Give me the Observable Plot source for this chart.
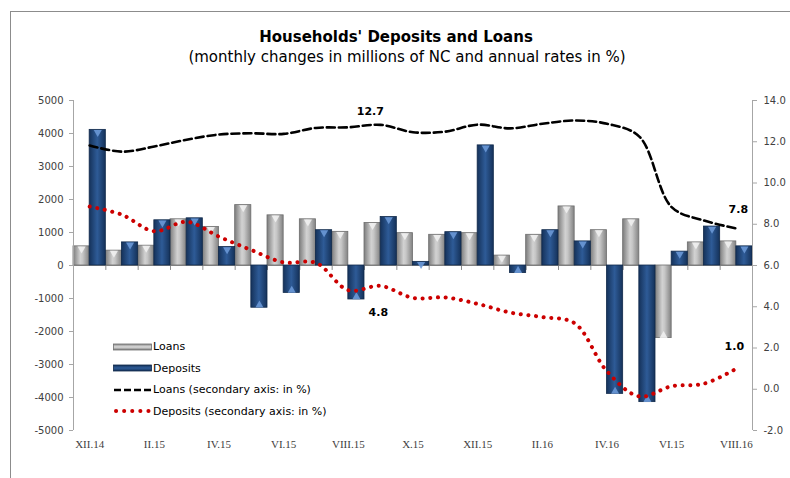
<!DOCTYPE html>
<html>
<head>
<meta charset="utf-8">
<script src="https://cdn.jsdelivr.net/npm/d3@7"></script>
<script src="https://cdn.jsdelivr.net/npm/@observablehq/plot@0.6"></script>
<style>
  html, body { margin: 0; padding: 0; background: #fff; }
  #wrap { position: relative; width: 790px; height: 478px; overflow: hidden; font-family: "DejaVu Sans", sans-serif; }
  #wrap > svg { position: absolute; left: 0; top: 0; }
  .frameTop { position: absolute; left: 10px; top: 11px; width: 790px; height: 0; border-top: 1.5px solid #8c8c8c; }
  .frameLeft { position: absolute; left: 10px; top: 11px; width: 0; height: 480px; border-left: 1.5px solid #8c8c8c; }
  .title { position: absolute; top: 28px; left: 196px; width: 400px; text-align: center; font-weight: bold; font-size: 15px; color: #000; }
  .subtitle { position: absolute; top: 48px; left: 157px; width: 500px; text-align: center; font-size: 15px; color: #000; }
  .legend { position: absolute; left: 113px; top: 336px; font-size: 11px; color: #000; }
  .legend .row { height: 21.5px; display: flex; align-items: center; }
  .legend .sw { width: 39px; height: 20px; margin-right: 1px; display: block; }
</style>
</head>
<body>
<div id="wrap">
  <div class="frameTop"></div>
  <div class="frameLeft"></div>
</div>
<script>
// ---- data ----
const months = ["XII.14","I.15","II.15","III.15","IV.15","V.15","VI.15","VII.15","VIII.15","IX.15","X.15",
                "XI.15","XII.15","I.16","II.16","III.16","IV.16","V.16","VI.16","VII.16","VIII.16"];
const tickLabels = ["XII.14","II.15","IV.15","VI.15","VIII.15","X.15","XII.15","II.16","IV.16","VI.15","VIII.16"];
const loans    = [580, 450, 600, 1400, 1170, 1830, 1520, 1400, 1020, 1290, 980, 930, 980, 300, 930, 1790, 1070, 1400, -2200, 700, 730];
const deposits = [4110, 700, 1370, 1430, 560, -1280, -830, 1070, -1030, 1470, 110, 1010, 3640, -230, 1070, 730, -3890, -4140, 420, 1180, 580];
const loansRate    = [11.82, 11.52, 11.77, 12.1, 12.35, 12.41, 12.38, 12.67, 12.7, 12.82, 12.46, 12.49, 12.83, 12.65, 12.87, 13.03, 12.87, 12.25, 8.83, 8.18, 7.8];
const depositsRate = [8.86, 8.46, 7.66, 8.12, 7.4, 6.75, 6.15, 6.13, 4.8, 5.01, 4.43, 4.45, 4.14, 3.72, 3.5, 3.2, 0.87, -0.35, 0.15, 0.27, 1.0];
const leftTicks  = [-5000, -4000, -3000, -2000, -1000, 0, 1000, 2000, 3000, 4000, 5000];
const rightTicks = [-2, 0, 2, 4, 6, 8, 10, 12, 14];
const labelPoints = [
  {i: 8,  series: "loans",    dx: 22, dy: -16},
  {i: 8,  series: "deposits", dx: 30, dy: 22},
  {i: 20, series: "loans",    dx: 2,  dy: -19},
  {i: 20, series: "deposits", dx: -2, dy: -22}
];

// secondary axis mapping: -2..14  ->  -5000..5000
const toLeft = v => (v - 6) * 625;
const fromLeft = y => y / 625 + 6;

const rows = months.map((m, i) => ({
  i, month: m, loans: loans[i], deposits: deposits[i],
  loansRate: toLeft(loansRate[i]), depositsRate: toLeft(depositsRate[i])
}));
const tickIdx = tickLabels.map((t, k) => k * 2);
const boundaries = d3.range(months.length - 1).map(i => i + 0.5);
const labels = labelPoints.map(p => {
  const v = p.series === "loans" ? loansRate[p.i] : depositsRate[p.i];
  return {...p, x: p.i, y: toLeft(v), text: v.toFixed(1)};
});
const yMin = leftTicks[0];

const chart = Plot.plot({
  width: 790,
  height: 478,
  marginLeft: 73,
  marginRight: 38,
  marginTop: 100,
  marginBottom: 48,
  style: {fontFamily: "DejaVu Sans, sans-serif", fontSize: "10px", color: "#404040", background: "transparent"},
  x: {domain: [-0.5, months.length - 0.5], axis: null},
  y: {domain: [-5000, 5000], axis: null},
  marks: [
    Plot.ruleY([0], {stroke: "#8c8c8c", strokeWidth: 1}),
    Plot.ruleX(boundaries, {x: d => d, y1: 0, y2: -150, stroke: "#8c8c8c"}),
    Plot.rectY(rows, {x1: d => d.i - 0.5, x2: d => d.i, y1: 0, y2: "loans", fill: "url(#gGray)", stroke: "#6e6e6e", strokeWidth: 0.8}),
    Plot.rectY(rows, {x1: d => d.i, x2: d => d.i + 0.5, y1: 0, y2: "deposits", fill: "url(#gBlue)", stroke: "#10294a", strokeWidth: 0.8}),
    Plot.dot(rows.filter(d => d.loans >= 0), {x: d => d.i - 0.25, y: "loans", symbol: "triangle", r: 3, rotate: 180, dy: 2.5, fill: "#f2f2f2", fillOpacity: 0.85}),
    Plot.dot(rows.filter(d => d.loans < 0), {x: d => d.i - 0.25, y: "loans", symbol: "triangle", r: 3, dy: -2.5, fill: "#f2f2f2", fillOpacity: 0.85}),
    Plot.dot(rows.filter(d => d.deposits >= 0), {x: d => d.i + 0.25, y: "deposits", symbol: "triangle", r: 3, rotate: 180, dy: 2.5, fill: "#6a98d6", fillOpacity: 0.9}),
    Plot.dot(rows.filter(d => d.deposits < 0), {x: d => d.i + 0.25, y: "deposits", symbol: "triangle", r: 3, dy: -2.5, fill: "#6a98d6", fillOpacity: 0.9}),
    Plot.ruleX([-0.5, months.length - 0.5], {stroke: "#a6a6a6"}),
    Plot.axisY({ticks: leftTicks, tickSize: 4, tickPadding: 6, tickFormat: d => String(d), stroke: "#a6a6a6"}),
    Plot.axisY({anchor: "right", ticks: rightTicks.map(toLeft), tickSize: 4, tickPadding: 7, tickFormat: y => fromLeft(y).toFixed(1), stroke: "#a6a6a6"}),
    Plot.text(tickIdx, {x: d => d, y: () => yMin, text: (d, k) => tickLabels[k], dy: 14, fontFamily: "Liberation Serif, serif", fontSize: 11, fill: "#404040"}),
    Plot.line(rows, {x: "i", y: "loansRate", curve: "catmull-rom", stroke: "#000", strokeWidth: 2.6, strokeDasharray: "8,4"}),
    Plot.line(rows, {x: "i", y: "depositsRate", curve: "catmull-rom", stroke: "#cc0000", strokeWidth: 4, strokeDasharray: "0.1,7.6", strokeLinecap: "round"}),
    ...labels.map(l => Plot.text([l], {x: "x", y: "y", text: "text", dx: l.dx, dy: l.dy, fontWeight: "bold", fontSize: 11, fill: "#000"}))
  ]
});

// gradients
const defs = `<defs>
<linearGradient id="gGray" x1="0" x2="1" y1="0" y2="0">
<stop offset="0" stop-color="#7c7c7c"/><stop offset="0.45" stop-color="#d2d2d2"/><stop offset="0.6" stop-color="#c6c6c6"/><stop offset="1" stop-color="#828282"/>
</linearGradient>
<linearGradient id="gBlue" x1="0" x2="1" y1="0" y2="0">
<stop offset="0" stop-color="#15325a"/><stop offset="0.5" stop-color="#2e5b97"/><stop offset="1" stop-color="#15325a"/>
</linearGradient></defs>`;
chart.insertAdjacentHTML("afterbegin", defs);

const wrap = document.getElementById("wrap");
wrap.appendChild(chart);

// title
const t = document.createElement("div"); t.className = "title"; t.textContent = "Households' Deposits and Loans"; wrap.appendChild(t);
const s = document.createElement("div"); s.className = "subtitle"; s.textContent = "(monthly changes in millions of NC and annual rates in %)"; wrap.appendChild(s);

// legend
const legendItems = [
  {label: "Loans", kind: "gray"},
  {label: "Deposits", kind: "blue"},
  {label: "Loans (secondary axis: in %)", kind: "dash"},
  {label: "Deposits (secondary axis: in %)", kind: "dot"}
];
const lg = document.createElement("div"); lg.className = "legend";
legendItems.forEach(it => {
  const r = document.createElement("div"); r.className = "row";
  let sw;
  if (it.kind === "gray") sw = `<svg class="sw" viewBox="0 0 39 20"><defs><linearGradient id="lg1" x1="0" x2="0" y1="0" y2="1"><stop offset="0" stop-color="#8a8a8a"/><stop offset="0.5" stop-color="#dcdcdc"/><stop offset="1" stop-color="#7a7a7a"/></linearGradient></defs><rect x="0.5" y="7" width="38" height="6" fill="url(#lg1)" stroke="#6e6e6e" stroke-width="0.8"/></svg>`;
  else if (it.kind === "blue") sw = `<svg class="sw" viewBox="0 0 39 20"><defs><linearGradient id="lg2" x1="0" x2="0" y1="0" y2="1"><stop offset="0" stop-color="#15325a"/><stop offset="0.5" stop-color="#2e5b97"/><stop offset="1" stop-color="#15325a"/></linearGradient></defs><rect x="0.5" y="7" width="38" height="6" fill="url(#lg2)" stroke="#10294a" stroke-width="0.8"/></svg>`;
  else if (it.kind === "dash") sw = `<svg class="sw" viewBox="0 0 39 20"><line x1="1" x2="39" y1="10" y2="10" stroke="#000" stroke-width="2.4" stroke-dasharray="7,3"/></svg>`;
  else sw = `<svg class="sw" viewBox="0 0 39 20"><line x1="3" x2="39" y1="10" y2="10" stroke="#cc0000" stroke-width="4" stroke-linecap="round" stroke-dasharray="0.1,8"/></svg>`;
  r.innerHTML = sw + `<span>${it.label}</span>`;
  lg.appendChild(r);
});
wrap.appendChild(lg);
</script>
</body>
</html>
